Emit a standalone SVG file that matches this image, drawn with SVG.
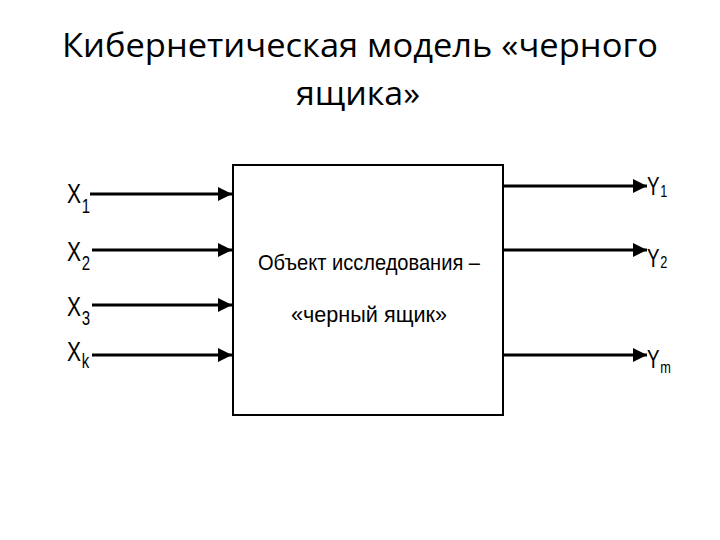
<svg xmlns="http://www.w3.org/2000/svg" width="720" height="540" viewBox="0 0 720 540">
<style>
.title{font-family:"Open Sans","Noto Sans",sans-serif;font-size:32px;fill:#000;}
.lbl{font-family:"Liberation Sans","DejaVu Sans",sans-serif;font-size:28px;fill:#000;}
.ylbl{font-family:"Liberation Sans","DejaVu Sans",sans-serif;font-size:25px;fill:#000;}
.sub{font-size:20px;}
.ysub{font-size:17px;}
.ctr{font-family:"Liberation Sans","DejaVu Sans",sans-serif;font-size:22px;fill:#000;}
.ln{stroke:#000;stroke-width:3;fill:none;}
</style>
<defs>
<marker id="ah" viewBox="0 0 10 10" refX="10" refY="5" markerWidth="14" markerHeight="14" markerUnits="userSpaceOnUse" orient="auto">
<path d="M0,0 L10,5 L0,10 Z" fill="#000"/>
</marker>
</defs>
<rect width="720" height="540" fill="#fff"/>
<g id="title">
<text class="title" x="360" y="57" text-anchor="middle" textLength="596" lengthAdjust="spacingAndGlyphs">Кибернетическая модель «черного</text>
<text class="title" x="358" y="105" text-anchor="middle" textLength="124" lengthAdjust="spacingAndGlyphs">ящика»</text>
</g>
<g id="box">
<rect x="233" y="165" width="270" height="250" fill="#fff" stroke="#000" stroke-width="2"/>
<text class="ctr" x="369" y="270" text-anchor="middle" textLength="222" lengthAdjust="spacingAndGlyphs">Объект исследования –</text>
<text class="ctr" x="369" y="322" text-anchor="middle" textLength="156" lengthAdjust="spacingAndGlyphs">«черный ящик»</text>
</g>
<g id="connectors">
<line class="ln" x1="90" y1="194" x2="232" y2="194" marker-end="url(#ah)"/>
<line class="ln" x1="92" y1="250" x2="232" y2="250" stroke-width="2" marker-end="url(#ah)"/>
<line class="ln" x1="92" y1="305" x2="232" y2="305" marker-end="url(#ah)"/>
<line class="ln" x1="92" y1="355" x2="232" y2="355" marker-end="url(#ah)"/>
<line class="ln" x1="503" y1="186" x2="647" y2="186" marker-end="url(#ah)"/>
<line class="ln" x1="503" y1="250" x2="647" y2="250" stroke-width="2" marker-end="url(#ah)"/>
<line class="ln" x1="503" y1="355" x2="647" y2="355" marker-end="url(#ah)"/>
</g>
<g id="x1"><text class="lbl" transform="translate(67,203) scale(0.75,1)">X<tspan class="sub" dx="1" dy="10">1</tspan></text></g>
<g id="x2"><text class="lbl" transform="translate(67,261) scale(0.75,1)">X<tspan class="sub" dx="1" dy="9">2</tspan></text></g>
<g id="x3"><text class="lbl" transform="translate(67,316) scale(0.75,1)">X<tspan class="sub" dx="1" dy="9">3</tspan></text></g>
<g id="xk"><text class="lbl" transform="translate(67,361) scale(0.75,1)">X<tspan class="sub" dx="1" dy="7">k</tspan></text></g>
<g id="y1"><text class="ylbl" transform="translate(647,195) scale(0.75,1)">Y<tspan class="ysub" dx="1" dy="2">1</tspan></text></g>
<g id="y2"><text class="ylbl" transform="translate(647,267) scale(0.75,1)">Y<tspan class="ysub" dx="1" dy="1">2</tspan></text></g>
<g id="ym"><text class="ylbl" transform="translate(647,368) scale(0.75,1)">Y<tspan class="ysub" dx="1" dy="5" font-size="19">m</tspan></text></g>
</svg>
